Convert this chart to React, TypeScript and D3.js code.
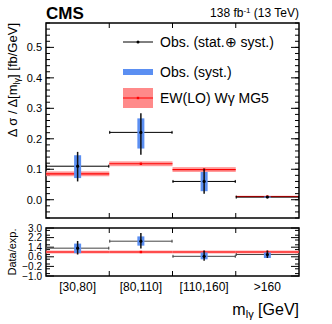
import * as d3 from "d3";

const bins = ["[30,80]", "[80,110]", "[110,160]", ">160"];
const obs = [0.11, 0.221, 0.06, 0.0086];
const totUp = [0.157, 0.284, 0.102, 0.0115];
const totDown = [0.06, 0.148, 0.02, 0.0062];
const systUp = [0.146, 0.267, 0.091, 0.0105];
const systDown = [0.071, 0.168, 0.028, 0.0068];
const pred = [0.085, 0.118, 0.099, 0.0105];
const predUnc = [0.008, 0.008, 0.008, 0.0025];

const ratio = [1.32, 1.9, 0.64, 0.79];
const ratioTotUp = [1.92, 2.58, 1.13, 1.13];
const ratioTotDown = [0.79, 1.3, 0.28, 0.5];
const ratioSystUp = [1.7, 2.3, 0.96, 0.96];
const ratioSystDown = [0.9, 1.53, 0.39, 0.5];
const ratioPredUnc = 0.12;

const topTicks = [0.0, 0.1, 0.2, 0.3, 0.4, 0.5];
const ratioTicks = [-1.0, -0.2, 0.6, 1.4, 2.2, 3.0];

const W = 332;
const H = 324;
const left = 46;
const right = 299;
const font = "'Liberation Sans', Arial, Helvetica, sans-serif";
const blue = "#5b8ff2";
const redBand = "#ff8a8a";
const red = "#ff0000";

const x = d3.scaleBand<string>().domain(bins).range([left, right]);
const y = d3.scaleLinear().domain([-0.06, 0.58]).range([218, 23]);
const yr = d3.scaleLinear().domain([-1, 3]).range([276, 228]);

function minorTicks(scale: d3.ScaleLinear<number, number>, step: number) {
  const [a, b] = scale.domain();
  return d3.range(Math.ceil(a / step) * step, b + 1e-9, step);
}

function Panel({
  ys,
  major,
  minorStep,
  fmt,
  fontSize,
}: {
  ys: d3.ScaleLinear<number, number>;
  major: number[];
  minorStep: number;
  fmt: (v: number) => string;
  fontSize: number;
}) {
  const [y0, y1] = ys.range();
  const minors = minorTicks(ys, minorStep);
  const edges = bins.slice(1).map((b) => x(b)!);
  return (
    <g>
      {minors.map((v, i) => (
        <g key={"m" + i} stroke="#000" strokeWidth={1}>
          <line x1={left} x2={left + 4} y1={ys(v)} y2={ys(v)} />
          <line x1={right} x2={right - 4} y1={ys(v)} y2={ys(v)} />
        </g>
      ))}
      {major.map((v, i) => (
        <g key={"M" + i}>
          <line x1={left} x2={left + 8} y1={ys(v)} y2={ys(v)} stroke="#000" />
          <line x1={right} x2={right - 8} y1={ys(v)} y2={ys(v)} stroke="#000" />
          <text
            x={left - 4}
            y={ys(v) + fontSize * 0.36}
            textAnchor="end"
            fontSize={fontSize}
            fontFamily={font}
          >
            {fmt(v)}
          </text>
        </g>
      ))}
      {edges.map((e, i) => (
        <g key={"e" + i} stroke="#000">
          <line x1={e} x2={e} y1={y0} y2={y0 - 5} />
          <line x1={e} x2={e} y1={y1} y2={y1 + 5} />
        </g>
      ))}
      <rect
        x={left}
        y={y1}
        width={right - left}
        height={y0 - y1}
        fill="none"
        stroke="#000"
        strokeWidth={1.5}
      />
    </g>
  );
}

function Marks({
  ys,
  val,
  up,
  down,
  sUp,
  sDown,
  p,
  pUnc,
  lineColor,
}: {
  ys: d3.ScaleLinear<number, number>;
  val: number[];
  up: number[];
  down: number[];
  sUp: number[];
  sDown: number[];
  p: number[];
  pUnc: number[];
  lineColor: string;
}) {
  const bw = x.bandwidth();
  return (
    <g>
      {bins.map((b, i) => {
        const x0 = x(b)!;
        const xc = x0 + bw / 2;
        return (
          <g key={b}>
            <rect
              x={x0}
              y={ys(p[i] + pUnc[i])}
              width={bw}
              height={ys(p[i] - pUnc[i]) - ys(p[i] + pUnc[i])}
              fill={redBand}
              opacity={0.85}
            />
            <line x1={x0} x2={x0 + bw} y1={ys(p[i])} y2={ys(p[i])} stroke={red} strokeWidth={1.2} />
            <rect x={xc - 1.2} y={ys(p[i]) - 1.2} width={2.4} height={2.4} fill={red} />
          </g>
        );
      })}
      {bins.map((b, i) => {
        const x0 = x(b)!;
        const xc = x0 + bw / 2;
        return (
          <g key={b + "o"}>
            <line x1={x0} x2={x0 + bw} y1={ys(val[i])} y2={ys(val[i])} stroke={lineColor} strokeWidth={1} />
            <line x1={x0 + 0.5} x2={x0 + 0.5} y1={ys(val[i]) - 1.5} y2={ys(val[i]) + 1.5} stroke={lineColor} />
            <line x1={x0 + bw - 0.5} x2={x0 + bw - 0.5} y1={ys(val[i]) - 1.5} y2={ys(val[i]) + 1.5} stroke={lineColor} />
            <rect
              x={xc - 3.5}
              y={ys(sUp[i])}
              width={7}
              height={ys(sDown[i]) - ys(sUp[i])}
              fill={blue}
            />
            <line x1={xc} x2={xc} y1={ys(up[i])} y2={ys(down[i])} stroke="#111" strokeWidth={1.5} />
            <circle cx={xc} cy={ys(val[i])} r={1.6} fill="#000" />
          </g>
        );
      })}
    </g>
  );
}

export default function App() {
  return (
    <svg
      width={W}
      height={H}
      style={{ position: "absolute", left: 0, top: 0, background: "#fff" }}
    >
      <rect width={W} height={H} fill="#fff" />
      <Panel ys={y} major={topTicks} minorStep={0.02} fmt={d3.format(".1f")} fontSize={11} />
      <Marks
        ys={y}
        val={obs}
        up={totUp}
        down={totDown}
        sUp={systUp}
        sDown={systDown}
        p={pred}
        pUnc={predUnc}
        lineColor="#000"
      />
      <Panel ys={yr} major={ratioTicks} minorStep={0.4} fmt={d3.format(".1f")} fontSize={10} />
      <Marks
        ys={yr}
        val={ratio}
        up={ratioTotUp}
        down={ratioTotDown}
        sUp={ratioSystUp}
        sDown={ratioSystDown}
        p={bins.map(() => 1)}
        pUnc={bins.map(() => ratioPredUnc)}
        lineColor="#444"
      />

      {/* legend */}
      <g fontFamily={font} fontSize={14}>
        <line x1={123} x2={153} y1={42} y2={42} stroke="#000" />
        <circle cx={138} cy={42} r={1.5} fill="#000" />
        <text x={160} y={47}>Obs. (stat.⊕ syst.)</text>
        <rect x={123} y={69} width={30} height={6} fill={blue} />
        <text x={160} y={77}>Obs. (syst.)</text>
        <rect x={123} y={88} width={30} height={20} fill={redBand} />
        <line x1={123} x2={153} y1={98} y2={98} stroke={red} />
        <rect x={136.8} y={96.8} width={2.4} height={2.4} fill={red} />
        <text x={160} y={103}>EW(LO) Wγ MG5</text>
      </g>

      {/* headers */}
      <text x={left} y={19} fontFamily={font} fontWeight="bold" fontSize={17}>
        CMS
      </text>
      <text x={right} y={17} textAnchor="end" fontFamily={font} fontSize={12}>
        138 fb
        <tspan fontSize={8} dy={-4}>
          -1
        </tspan>
        <tspan dy={4}> (13 TeV)</tspan>
      </text>

      {/* axis titles */}
      <text
        transform="translate(17,23) rotate(-90)"
        textAnchor="end"
        fontFamily={font}
        fontSize={13}
      >
        Δ σ / Δ[m
        <tspan fontSize={9} dy={3}>
          lγ
        </tspan>
        <tspan dy={-3}>] [fb/GeV]</tspan>
      </text>
      <text
        transform="translate(16,252) rotate(-90)"
        textAnchor="middle"
        fontFamily={font}
        fontSize={11}
      >
        Data/exp.
      </text>
      {bins.map((b) => (
        <text
          key={b}
          x={x(b)! + x.bandwidth() / 2}
          y={291}
          textAnchor="middle"
          fontFamily={font}
          fontSize={12}
        >
          {b}
        </text>
      ))}
      <text x={right} y={315} textAnchor="end" fontFamily={font} fontSize={16}>
        m
        <tspan fontSize={11} dy={3}>
          lγ
        </tspan>
        <tspan dy={-3}> [GeV]</tspan>
      </text>
    </svg>
  );
}
